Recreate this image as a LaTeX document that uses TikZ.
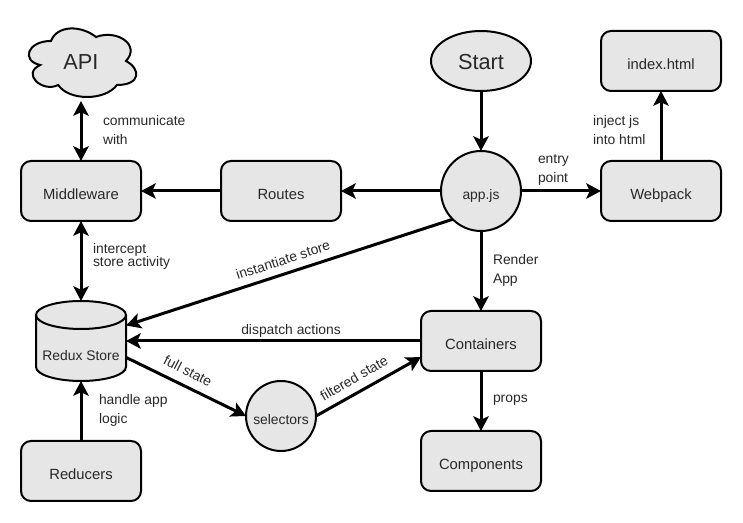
\documentclass[tikz,border=0pt]{standalone}
\usepackage{fontspec}
\setmainfont{Liberation Sans}
\usepackage{tikz}
\usetikzlibrary{arrows.meta, shapes.geometric, positioning, calc}
\definecolor{boxgray}{RGB}{230, 230, 230}
\definecolor{textgray}{RGB}{40, 40, 40}
\tikzset{
	shapebase/.style={draw=black,line width=1.5pt,fill=boxgray,text=textgray,outer sep=0pt,inner sep=0pt,text height=12.8pt,text depth=0pt},
	roundbox/.style={shapebase,rectangle,rounded corners=7.5pt,minimum width=90pt,minimum height=45pt,font=\fontsize{11.1}{13}\selectfont},
	roundnode/.style={shapebase,circle,font=\fontsize{10.4}{13}\selectfont},
	bigtext/.style={font=\fontsize{16.3}{19}\selectfont},
	plainnode/.style={text=textgray,outer sep=0pt,inner sep=0pt,text height=12.8pt,text depth=0pt},
	conn/.style={line width=2.25pt,-{Stealth[length=11pt,width=11.5pt,inset=2.5pt]}},
	biconn/.style={line width=2.25pt,{Stealth[length=11pt,width=11.5pt,inset=2.5pt]}-{Stealth[length=11pt,width=11.5pt,inset=2.5pt]}},
	outline/.style={draw=black,line width=1.5pt,fill=boxgray},
	lbl/.style={text=textgray,inner sep=0pt,outer sep=0pt,align=left,anchor=west,font=\fontsize{10.4}{14.25}\selectfont},
	tiltlbl/.style={text=textgray,inner sep=0pt,outer sep=0pt,font=\fontsize{10.4}{13}\selectfont}
}

\begin{document}
\begin{tikzpicture}[x=0.75pt,y=-0.75pt]
	\useasboundingbox (0,0) rectangle (743,523);
	% cloud and store outlines
	\draw[outline] (51,41) .. controls (27,41) and (21,61) .. (40.2,65)
		.. controls (21,73.8) and (42.6,93) .. (58.2,85)
		.. controls (69,101) and (105,101) .. (117,85)
		.. controls (141,85) and (141,69) .. (126,61)
		.. controls (141,45) and (117,29) .. (96,37)
		.. controls (81,25) and (57,25) .. (51,41) -- cycle;
	\draw[outline] (36,315) arc[start angle=180,end angle=360,x radius=45,y radius=14]
		-- (126,367) arc[start angle=0,end angle=180,x radius=45,y radius=14] -- cycle;
	\draw[line width=1.5pt] (36,315) arc[start angle=180,end angle=0,x radius=45,y radius=14];
	% nodes
	\node[plainnode,minimum width=90pt,minimum height=60pt,bigtext] (api) at (81,61) {API};
	\node[shapebase,ellipse,minimum width=75pt,minimum height=45pt,bigtext] (start) at (481,61) {Start};
	\node[roundbox] (index) at (661,61) {index.html};
	\node[roundbox] (middleware) at (81,191) {Middleware};
	\node[roundbox] (routes) at (281,191) {Routes};
	\node[roundnode,minimum size=60pt] (app) at (481,191) {app.js};
	\node[roundbox] (webpack) at (661,191) {Webpack};
	\node[plainnode,minimum width=67.5pt,minimum height=60pt] (store) at (81,341) {};
	\node[plainnode,font=\fontsize{10.4}{13}\selectfont] (storetext) at (81,352) {Redux Store};
	\node[roundbox] (containers) at (481,341) {Containers};
	\node[roundnode,minimum size=52.5pt] (selectors) at (281,416) {selectors};
	\node[roundbox] (reducers) at (81,471) {Reducers};
	\node[roundbox] (components) at (481,461) {Components};
	% connectors
	\draw[biconn] (api.south) -- (middleware.north);
	\draw[biconn] (middleware.south) -- (store.north);
	\draw[conn] (start) -- (app);
	\draw[conn] (app) -- (routes);
	\draw[conn] (routes) -- (middleware);
	\draw[conn] (app) -- (webpack);
	\draw[conn] (webpack) -- (index);
	\draw[conn] (app) -- (containers);
	\draw[conn] (app.225) -- (store.19);
	\draw[conn] (containers.west) -- (store.east);
	\draw[conn] (store.-20) -- (selectors.west);
	\draw[conn] (selectors.east) -- (containers.195);
	\draw[conn] (reducers) -- (store.south);
	\draw[conn] (containers) -- (components);
	% labels
	\node[lbl] (lblapi) at (103,130) {communicate\\with};
	\node[lbl] (lblentry) at (538,170) {entry\\point};
	\node[lbl] (lblinject) at (593,130) {inject js\\into html};
	\node[lbl,font=\fontsize{10.4}{9.75}\selectfont] (lblstore) at (93,256.5) {intercept\\store activity};
	\node[lbl] (lblrender) at (493,270) {Render\\App};
	\node[lbl] (lblhandle) at (99,410) {handle app\\logic};
	\node[lbl] (lblprops) at (493,400.5) {props};
	\node[tiltlbl,rotate=18] (lblinst) at (283,260) {instantiate store};
	\node[tiltlbl] (lbldispatch) at (291,330.5) {dispatch actions};
	\node[tiltlbl,rotate=-27] (lblfull) at (188,371) {full state};
	\node[tiltlbl,rotate=30] (lblfilter) at (354,378) {filtered state};
\end{tikzpicture}
\end{document}
